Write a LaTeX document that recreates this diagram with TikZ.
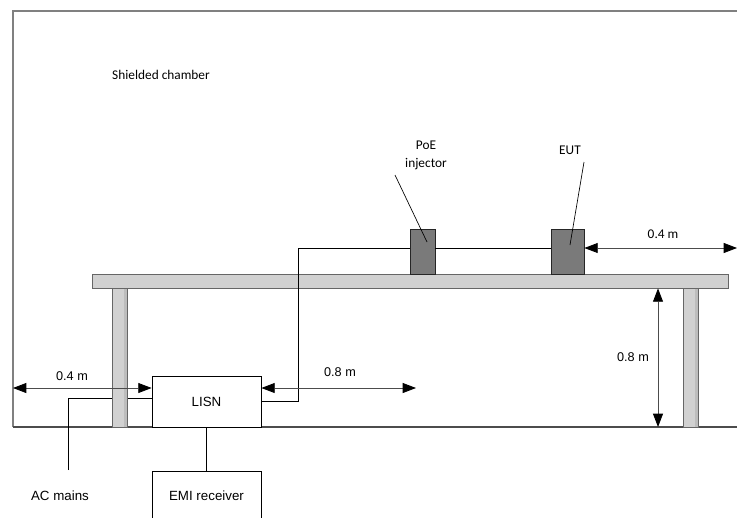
\documentclass[tikz,border=0pt]{standalone}
\usepackage{fontspec}
\setmainfont{Carlito}
\newfontfamily\arialf{Liberation Sans}
\usetikzlibrary{arrows.meta}
\begin{document}
\begin{tikzpicture}[x=0.75pt,y=-0.75pt,
  wall/.style={draw=black!50, line width=1.1pt},
  floorline/.style={draw=black!70, line width=0.8pt},
  tablepart/.style={draw=black!60, fill=black!18, line width=0.6pt, inner sep=0pt},
  device/.style={draw=black!85, fill=black!52, line width=0.6pt, inner sep=0pt},
  unit/.style={draw=black, fill=white, line width=0.6pt, inner sep=0pt,
    font=\arialf\fontsize{10}{12}\selectfont},
  cable/.style={draw=black, line width=0.6pt},
  leader/.style={draw=black, line width=0.5pt},
  dim/.style={draw=black!70, line width=0.6pt,
    {Triangle[length=10pt,width=7.5pt,color=black]}-{Triangle[length=10pt,width=7.5pt,color=black]}},
  calfont/.style={font=\fontsize{10}{13.5}\selectfont, inner sep=0pt, align=center},
  arfont/.style={font=\arialf\fontsize{9.5}{12}\selectfont, inner sep=0pt}
]
\useasboundingbox (0,0) rectangle (737,517);

% chamber
\coordinate (tl) at (13,11);
\coordinate (tr) at (737,11);
\coordinate (fl) at (13,427);
\coordinate (fr) at (737,427);
\draw[wall] (tr) -- (tl) -- (fl);
\draw[floorline] (fl) -- (fr);
\node[calfont] (chamber) at (161,75) {Shielded chamber};

% AC mains cable (behind leg)
\node[arfont, font=\arialf\fontsize{10}{12}\selectfont] (acm) at (60,496) {AC mains};
\coordinate (acbot) at (68,470);
\coordinate (acbend) at (68,398);
\coordinate (aclisn) at (152,398);

% LISN and EMI receiver
\node[unit, minimum width=81.75pt, minimum height=38.25pt] (lisn) at (206.5,401.5) {LISN};
\node[unit, minimum width=81.75pt, minimum height=37.5pt] (emi) at (206.5,496) {EMI receiver};
\draw[cable] (acbot) -- (acbend) -- (aclisn);
\draw[cable] (lisn.south) -- (emi.north);

% legs
\node[tablepart, minimum width=11.25pt, minimum height=104.25pt] (legL) at (119.5,357.5) {};
\node[tablepart, minimum width=11.25pt, minimum height=104.25pt] (legR) at (690.5,357.5) {};
\fill[black!26] (124,289) rectangle (127,426.5);
\fill[black!26] (695,289) rectangle (698,426.5);

% table top
\node[tablepart, minimum width=477pt, minimum height=10.5pt] (table) at (410,281) {};

% devices
\node[device, minimum width=18.75pt, minimum height=33.75pt] (poe) at (422.5,251.5) {};
\node[device, minimum width=24.75pt, minimum height=33.75pt] (eut) at (567.5,251.5) {};

% cable LISN -> PoE -> EUT
\coordinate (cbend) at (298,248);
\draw[cable] (lisn.east) -| (cbend) -- (cbend -| poe.west);
\draw[cable] (poe.east |- cbend) -- (eut.west |- cbend);

% labels and leaders
\node[calfont] (poelbl) at (426,155) {PoE\\injector};
\node[calfont] (eutlbl) at (570,150) {EUT};
\coordinate (poel1) at (395,175);
\coordinate (poel2) at (427,242);
\coordinate (eutl1) at (584,162);
\coordinate (eutl2) at (570,245);
\draw[leader] (poel1) -- (poel2);
\draw[leader] (eutl1) -- (eutl2);

% dimensions
\coordinate (rd) at (737,248);
\draw[dim] (eut.east |- cbend) -- (rd);
\node[calfont] (d04r) at (663,234) {0.4 m};

\coordinate (vd) at (658,427);
\draw[dim] (table.south -| vd) -- (vd);
\node[arfont] (d08v) at (633,357) {0.8 m};

\coordinate (ld) at (13,388);
\draw[dim] (ld) -- (ld -| lisn.west);
\node[arfont] (d04l) at (72,376) {0.4 m};

\coordinate (bd) at (416,388);
\draw[dim] (bd -| lisn.east) -- (bd);
\node[arfont] (d08b) at (340,372) {0.8 m};
\end{tikzpicture}
\end{document}
